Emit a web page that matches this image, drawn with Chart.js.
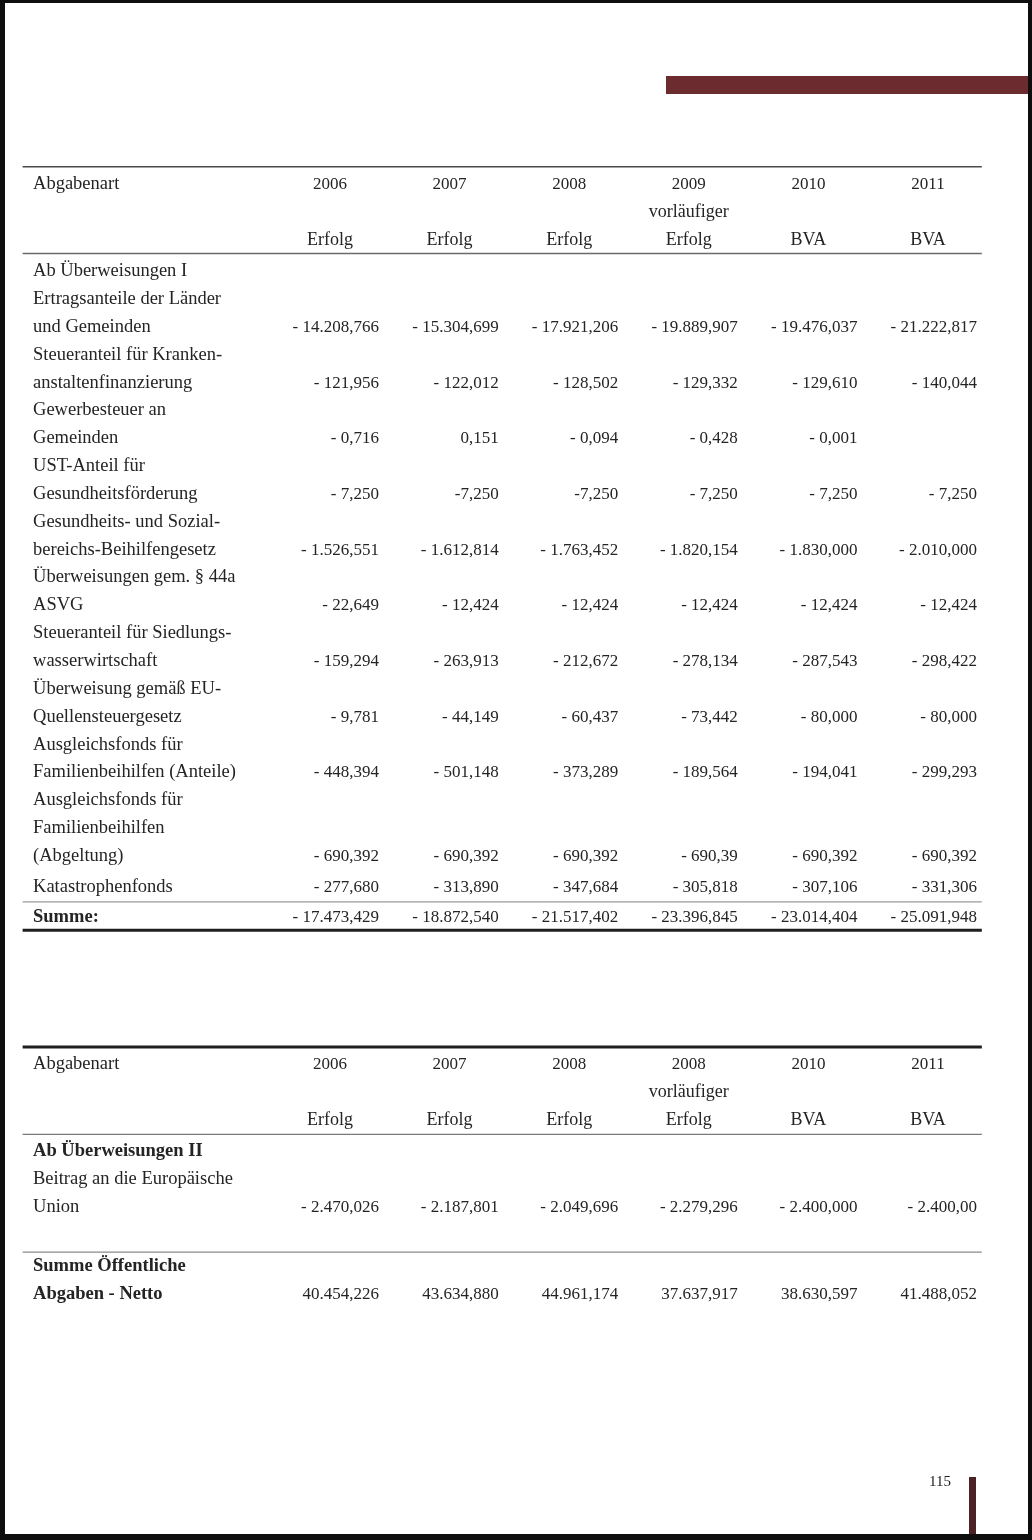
<!DOCTYPE html>
<html lang="de">
<head>
<meta charset="utf-8">
<title>Abgabenart – Ab Überweisungen</title>
<script src="https://cdn.jsdelivr.net/npm/chart.js@4.4.1/dist/chart.umd.min.js"></script>
<style>
    html, body { margin: 0; padding: 0; background: #fff; }
    .page { position: relative; width: 1032px; height: 1540px; overflow: hidden; background: #fff; }
    .page canvas { position: absolute; left: 0; top: 0; }
    .band { position: absolute; left: 666px; top: 76px; width: 362px; height: 18px; background: #6b2b2f; }
    .folio { position: absolute; left: 929px; top: 1473px; font: 15px 'Liberation Serif', serif; color: #222; }
    .folio-bar { position: absolute; left: 969px; top: 1477px; width: 7px; height: 60px; background: #4b2327; }
    .frame { position: absolute; inset: 0; border-style: solid; border-color: #0e0e0e; border-width: 3px 4px 6px 5px; pointer-events: none; }
</style>
</head>
<body>
<div class="page">
    <canvas id="table" width="1032" height="1540"></canvas>
    <div class="band"></div>
    <div class="folio">115</div>
    <div class="folio-bar"></div>
    <div class="frame"></div>
</div>
<script>
// Ab Überweisungen I / II — Werte wie im Druck (Mio. €)

const years1 = ['2006', '2007', '2008', '2009', '2010', '2011'];
const years2 = ['2006', '2007', '2008', '2008', '2010', '2011'];
const prelim = ['', '', '', 'vorläufiger', '', ''];
const basis = ['Erfolg', 'Erfolg', 'Erfolg', 'Erfolg', 'BVA', 'BVA'];

const ertragsanteile = ['- 14.208,766', '- 15.304,699', '- 17.921,206', '- 19.889,907', '- 19.476,037', '- 21.222,817'];
const krankenanstalten = ['- 121,956', '- 122,012', '- 128,502', '- 129,332', '- 129,610', '- 140,044'];
const gewerbesteuer = ['- 0,716', '0,151', '- 0,094', '- 0,428', '- 0,001', ''];
const gesundheitsfoerderung = ['- 7,250', '-7,250', '-7,250', '- 7,250', '- 7,250', '- 7,250'];
const gsbg = ['- 1.526,551', '- 1.612,814', '- 1.763,452', '- 1.820,154', '- 1.830,000', '- 2.010,000'];
const asvg44a = ['- 22,649', '- 12,424', '- 12,424', '- 12,424', '- 12,424', '- 12,424'];
const siedlungswasser = ['- 159,294', '- 263,913', '- 212,672', '- 278,134', '- 287,543', '- 298,422'];
const euQuellensteuer = ['- 9,781', '- 44,149', '- 60,437', '- 73,442', '- 80,000', '- 80,000'];
const flafAnteile = ['- 448,394', '- 501,148', '- 373,289', '- 189,564', '- 194,041', '- 299,293'];
const flafAbgeltung = ['- 690,392', '- 690,392', '- 690,392', '- 690,39', '- 690,392', '- 690,392'];
const katastrophenfonds = ['- 277,680', '- 313,890', '- 347,684', '- 305,818', '- 307,106', '- 331,306'];
const summe1 = ['- 17.473,429', '- 18.872,540', '- 21.517,402', '- 23.396,845', '- 23.014,404', '- 25.091,948'];

const euBeitrag = ['- 2.470,026', '- 2.187,801', '- 2.049,696', '- 2.279,296', '- 2.400,000', '- 2.400,00'];
const nettoAbgaben = ['40.454,226', '43.634,880', '44.961,174', '37.637,917', '38.630,597', '41.488,052'];

const rows1 = [
    { label: ['Ab Überweisungen I'] },
    { label: ['Ertragsanteile der Länder', 'und Gemeinden'], values: ertragsanteile },
    { label: ['Steueranteil für Kranken-', 'anstaltenfinanzierung'], values: krankenanstalten },
    { label: ['Gewerbesteuer an', 'Gemeinden'], values: gewerbesteuer },
    { label: ['UST-Anteil für', 'Gesundheitsförderung'], values: gesundheitsfoerderung },
    { label: ['Gesundheits- und Sozial-', 'bereichs-Beihilfengesetz'], values: gsbg },
    { label: ['Überweisungen gem. § 44a', 'ASVG'], values: asvg44a },
    { label: ['Steueranteil für Siedlungs-', 'wasserwirtschaft'], values: siedlungswasser },
    { label: ['Überweisung gemäß EU-', 'Quellensteuergesetz'], values: euQuellensteuer },
    { label: ['Ausgleichsfonds für', 'Familienbeihilfen (Anteile)'], values: flafAnteile },
    { label: ['Ausgleichsfonds für', 'Familienbeihilfen', '(Abgeltung)'], values: flafAbgeltung },
    { label: ['Katastrophenfonds'], values: katastrophenfonds }
];

// x units = table columns (1..6), y units = text lines
const COL_PX = 119.6;
const LINE_PX = 27.85;
const LABEL_X = -1.483;
const NUM_SHIFT = 0.41;
const RULE_L = -1.57, RULE_R = 6.45;

const cells = { label: [], bold: [], year: [], word: [], num: [] };
const rules = [];
let y = 5.99;

function rule(width, color) {
    rules.push({ y, width, color });
}

function header(years) {
    y += 0.80;
    cells.label.push({ x: LABEL_X, y, text: 'Abgabenart' });
    years.forEach((t, i) => cells.year.push({ x: i + 1, y, text: t }));
    prelim.forEach((t, i) => { if (t) cells.word.push({ x: i + 1, y: y + 1, text: t }); });
    basis.forEach((t, i) => cells.word.push({ x: i + 1, y: y + 2, text: t }));
    y += 2;
}

// draws a row starting at the cursor, leaves the cursor on its last line
function row(r, bold) {
    r.label.forEach((t, j) => (bold ? cells.bold : cells.label).push({ x: LABEL_X, y: y + j, text: t }));
    y += r.label.length - 1;
    if (r.values) {
        r.values.forEach((t, i) => { if (t) cells.num.push({ x: i + 1 + NUM_SHIFT, y, text: t }); });
    }
}

// Tabelle 1
rule(1.6, '#4a4a4a');
header(years1);
y += 0.31; rule(1.4, '#6a6a6a');
y += 0.815;
rows1.forEach((r, i) => {
    if (i > 0) y += (i === rows1.length - 1) ? 1.108 : 1;
    row(r, false);
});
y += 0.36; rule(1.3, '#9a9a9a');
y += 0.72;
row({ label: ['Summe:'], values: summe1 }, true);
y += 0.30; rule(3, '#1e1e1e');

// Tabelle 2
y += 4.19; rule(3, '#1e1e1e');
header(years2);
y += 0.34; rule(1.3, '#7a7a7a');
y += 0.79;
row({ label: ['Ab Überweisungen II'] }, true);
y += 1;
row({ label: ['Beitrag an die Europäische', 'Union'], values: euBeitrag }, false);
y += 1.44; rule(1.3, '#8a8a8a');
y += 0.69;
row({ label: ['Summe Öffentliche', 'Abgaben - Netto'], values: nettoAbgaben }, true);

const FONT = "'Liberation Serif', serif";
const INK = '#242424';

function textSet(data, font, align) {
    return { data, cellFont: font, cellAlign: align, pointRadius: 0, pointHitRadius: 0 };
}

const datasets = [
    ...rules.map(r => ({
        data: [{ x: RULE_L, y: r.y }, { x: RULE_R, y: r.y }],
        showLine: true,
        borderColor: r.color,
        borderWidth: r.width,
        pointRadius: 0
    })),
    textSet(cells.label, `18.5px ${FONT}`, 'left'),
    textSet(cells.bold, `bold 18.5px ${FONT}`, 'left'),
    textSet(cells.year, `17px ${FONT}`, 'center'),
    textSet(cells.word, `18px ${FONT}`, 'center'),
    textSet(cells.num, `17px ${FONT}`, 'right')
];

const tableText = {
    id: 'tableText',
    afterDatasetsDraw(chart) {
        const { ctx } = chart;
        chart.data.datasets.forEach((ds, i) => {
            if (!ds.cellFont) return;
            const meta = chart.getDatasetMeta(i);
            ctx.save();
            ctx.font = ds.cellFont;
            ctx.fillStyle = INK;
            ctx.textAlign = ds.cellAlign;
            ctx.textBaseline = 'alphabetic';
            meta.data.forEach((pt, j) => ctx.fillText(ds.data[j].text, pt.x, pt.y));
            ctx.restore();
        });
    }
};

new Chart(document.getElementById('table'), {
    type: 'scatter',
    data: { datasets },
    options: {
        responsive: false,
        animation: false,
        events: [],
        layout: { padding: 0 },
        plugins: { legend: { display: false }, tooltip: { enabled: false } },
        scales: {
            x: { type: 'linear', display: false, min: 1 - 330 / COL_PX, max: 1 + 702 / COL_PX },
            y: { type: 'linear', display: false, reverse: true, min: 0, max: 1540 / LINE_PX }
        }
    },
    plugins: [tableText]
});
</script>
</body>
</html>
